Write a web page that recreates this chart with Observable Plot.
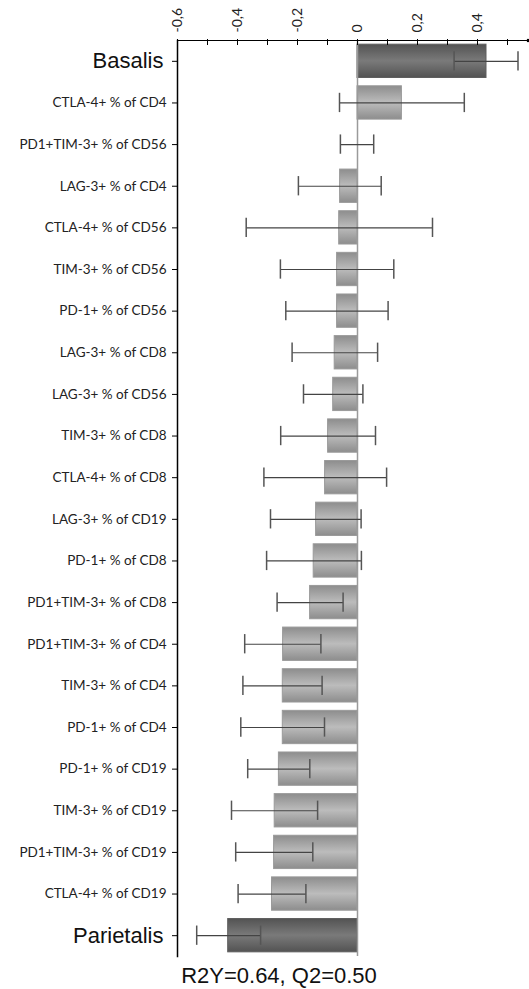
<!DOCTYPE html>
<html><head><meta charset="utf-8">
<script src="https://cdn.jsdelivr.net/npm/d3@7"></script>
<script src="https://cdn.jsdelivr.net/npm/@observablehq/plot@0.6"></script>
<style>
body{margin:0;background:#fff;}
#wrap{position:relative;width:529px;height:989px;overflow:hidden;}
#cap{position:absolute;left:0;top:963px;width:558px;text-align:center;font-family:"Liberation Sans",Arial,sans-serif;font-size:22px;line-height:26px;color:#111;}
</style>
</head><body>
<div id="wrap"><div id="chart"></div><div id="cap">R2Y=0.64, Q2=0.50</div></div>
<script>
const categories = ["Basalis","CTLA-4+ % of CD4","PD1+TIM-3+ % of CD56","LAG-3+ % of CD4","CTLA-4+ % of CD56","TIM-3+ % of CD56","PD-1+ % of CD56","LAG-3+ % of CD8","LAG-3+ % of CD56","TIM-3+ % of CD8","CTLA-4+ % of CD8","LAG-3+ % of CD19","PD-1+ % of CD8","PD1+TIM-3+ % of CD8","PD1+TIM-3+ % of CD4","TIM-3+ % of CD4","PD-1+ % of CD4","PD-1+ % of CD19","TIM-3+ % of CD19","PD1+TIM-3+ % of CD19","CTLA-4+ % of CD19","Parietalis"];
const values  = [0.430,0.148,0.000,-0.058,-0.061,-0.068,-0.068,-0.076,-0.081,-0.098,-0.108,-0.138,-0.146,-0.158,-0.248,-0.249,-0.249,-0.262,-0.276,-0.278,-0.285,-0.431];
const errLow  = [0.322,-0.060,-0.057,-0.197,-0.371,-0.257,-0.239,-0.218,-0.180,-0.256,-0.312,-0.290,-0.303,-0.268,-0.376,-0.382,-0.389,-0.366,-0.420,-0.406,-0.398,-0.536];
const errHigh = [0.535,0.356,0.054,0.079,0.250,0.121,0.102,0.067,0.018,0.060,0.097,0.012,0.013,-0.048,-0.122,-0.118,-0.110,-0.159,-0.133,-0.149,-0.172,-0.323];
const bigCategories = ["Basalis","Parietalis"];
const xTicksMajor = [-0.6,-0.4,-0.2,0,0.2,0.4];
const xTicksMinor = [-0.5,-0.3,-0.1,0.1,0.3,0.5];

const rows = categories.map((c,i)=>({cat:c, v:values[i], lo:errLow[i], hi:errHigh[i], big:bigCategories.includes(c)}));
const smallCats = categories.filter(c=>!bigCategories.includes(c));
const fmt = d => String(d).replace(".", ",");

const defsMark = () => {
  const ns = "http://www.w3.org/2000/svg";
  const defs = document.createElementNS(ns, "defs");
  const mk = (id, edge, mid) => {
    const g = document.createElementNS(ns, "linearGradient");
    g.setAttribute("id", id); g.setAttribute("x1","0"); g.setAttribute("y1","0"); g.setAttribute("x2","0"); g.setAttribute("y2","1");
    [[0,edge],[0.5,mid],[1,edge]].forEach(([o,c])=>{
      const s = document.createElementNS(ns,"stop"); s.setAttribute("offset",o); s.setAttribute("stop-color",c); g.appendChild(s);
    });
    defs.appendChild(g);
  };
  mk("gLight", "#8d8d8d", "#bcbcbc");
  mk("gDark", "#535353", "#7a7a7a");
  return defs;
};

const xmax = 0.57;
const chart = Plot.plot({
  width: 529, height: 958,
  marginTop: 40, marginBottom: 2, marginLeft: 177, marginRight: 1,
  style: {fontFamily: "Lato, 'Open Sans', sans-serif", fontSize: "14px", background: "#fff"},
  x: {domain: [-0.6, xmax], axis: null},
  y: {domain: categories, paddingInner: 0.2, paddingOuter: 0.1, round: false, axis: null},
  marks: [
    defsMark,
    Plot.barX(rows.filter(d=>!d.big), {x: "v", y: "cat", fill: "url(#gLight)", stroke: "#9a9a9a", strokeWidth: 1}),
    Plot.barX(rows.filter(d=>d.big), {x: "v", y: "cat", fill: "url(#gDark)", stroke: "#5e5e5e", strokeWidth: 1}),
    Plot.ruleX([0], {stroke: "#9a9a9a", strokeWidth: 1.5}),
    Plot.link(rows, {x1: "lo", x2: "hi", y1: "cat", y2: "cat", stroke: "#444", strokeWidth: 1.2}),
    Plot.tickX(rows, {x: "lo", y: "cat", stroke: "#555", strokeWidth: 1.5, insetTop: 7, insetBottom: 7}),
    Plot.tickX(rows, {x: "hi", y: "cat", stroke: "#555", strokeWidth: 1.5, insetTop: 7, insetBottom: 7}),
    Plot.frame({anchor: "top", stroke: "#000"}),
    Plot.frame({anchor: "left", stroke: "#000", strokeWidth: 1.5}),
    Plot.axisX(xTicksMajor, {anchor: "top", tickSize: 6, dy: 4, tickPadding: 6, tickRotate: -90, tickFormat: fmt, label: null, fontSize: 14, fill: "#222", stroke: "#000"}),
    Plot.axisX(xTicksMinor, {anchor: "top", tickSize: 6, dy: 4, text: null, label: null, stroke: "#000"}),
    Plot.dot([xmax], {x: d=>d, frameAnchor: "top", symbol: "square", r: 1.8, fill: "#000"}),
    Plot.axisY(smallCats, {anchor: "left", tickSize: 5, tickPadding: 6, label: null, fontSize: 13.5, fill: "#222", stroke: "#000"}),
    Plot.axisY(bigCategories, {anchor: "left", tickSize: 5, tickPadding: 9, label: null, fontSize: 22, fill: "#111", stroke: "#000", fontFamily: "'Liberation Sans', Arial, sans-serif"})
  ]
});
document.getElementById("chart").appendChild(chart);
</script>
</body></html>
